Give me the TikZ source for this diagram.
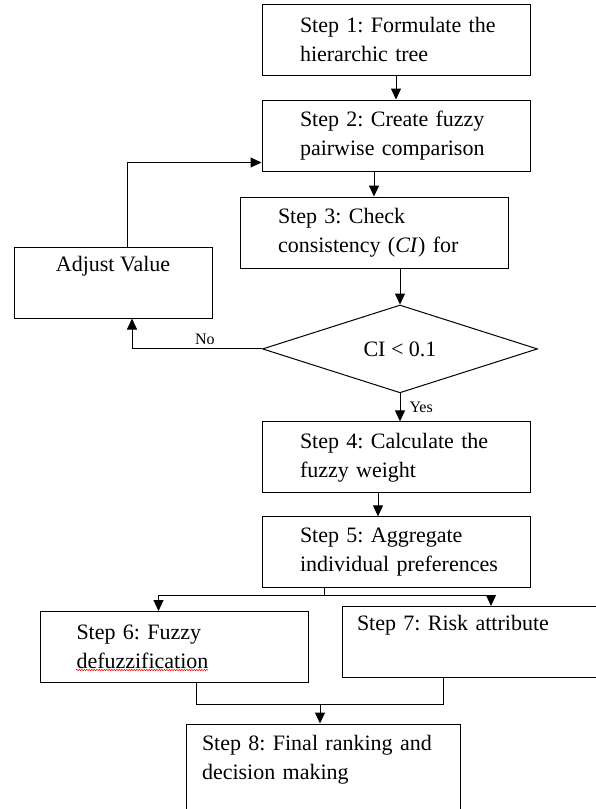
\documentclass[tikz,border=0pt]{standalone}
\usepackage{fontspec}
\setmainfont{Liberation Serif}
\usepackage{tikz}
\usetikzlibrary{shapes.geometric,arrows.meta,positioning,decorations.pathmorphing}
\frenchspacing

\begin{document}
\begin{tikzpicture}[x=1pt, y=1pt, >={Triangle[length=11pt,width=10pt]}, line width=1pt,
    stepbox/.style={draw, rectangle, minimum width=268pt, minimum height=71pt, text width=248pt, inner xsep=0pt, align=left, font=\fontsize{22}{29}\selectfont, execute at begin node={\leftskip=#1\relax}},
    stepbox/.default=28pt,
    adjbox/.style={draw, rectangle, minimum width=198pt, minimum height=71pt, align=center, font=\fontsize{22}{29}\selectfont},
    decision/.style={draw, diamond, minimum width=275pt, minimum height=87pt, inner sep=0pt, font=\fontsize{22}{29}\selectfont},
    answer/.style={font=\fontsize{16}{19}\selectfont, inner sep=1pt}]
    \useasboundingbox (0,0) rectangle (595,-809);

    \node[stepbox] (s1) at (396,-39.5) {Step 1: Formulate the\\hierarchic tree};
    \node[stepbox, below=24pt of s1] (s2) {\makebox[210pt][s]{Step 2: Create fuzzy}\\pairwise comparison};
    \node[stepbox, below=25pt of s2, xshift=-22pt] (s3) {Step 3: Check\\consistency (\textit{CI}) for};
    \node[decision, below=36pt of s3, xshift=26pt] (check) {CI < 0.1};
    \node[stepbox, below=28pt of check, xshift=-4pt] (s4) {Step 4: Calculate the\\fuzzy weight};
    \node[stepbox, below=23pt of s4] (s5) {Step 5: Aggregate\\individual preferences};
    \node[stepbox=26pt] (s6) at (174.5,-647) {Step 6: Fuzzy\\defuzzification};
    \node[stepbox=5pt] (s7) at (476,-642) {Step 7: Risk attribute\\\strut};
    \node[stepbox=3pt, minimum width=274pt, minimum height=104pt] (s8) at (323,-776) {Step 8: Final ranking and\\decision making\\\strut};
    \node[adjbox] (adjust) at (113,-282.5) {Adjust Value\\\strut};

    % spell-check squiggle under defuzzification
    \draw[red, line width=0.5pt, decorate, decoration={snake, amplitude=0.7pt, segment length=2.5pt}] ([xshift=36pt, yshift=13pt]s6.south west) -- ([xshift=168pt, yshift=13pt]s6.south west);

    \draw[->] (s1) -- (s2);
    \draw[->] (s2.south -| s3.north) -- (s3.north);
    \draw[->] (s3.south -| check.north) -- (check.north);
    \draw[->] (check.south) -- (check.south |- s4.north) node[answer, midway, right=8pt] {Yes};
    \draw[->] ([xshift=-18pt]s4.south) -- ([xshift=-18pt]s5.north);

    % loop back when CI is too large
    \draw[->] (check.west) -| ([xshift=19pt]adjust.south) node[answer, pos=0.22, above=3pt] {No};
    \draw[->] ([xshift=14pt]adjust.north) |- ([yshift=-27pt]s2.west);

    \coordinate (split) at ([xshift=-72pt, yshift=-7pt]s5.south);
    \draw ([xshift=-72pt]s5.south) -- (split);
    \draw[->] (split) -| ([xshift=-16pt]s6.north);
    \draw[->] (split) -| ([xshift=15pt]s7.north);

    \coordinate (merge) at ([xshift=-3pt, yshift=19pt]s8.north);
    \draw ([xshift=22pt]s6.south) |- (merge);
    \draw ([xshift=-33pt]s7.south) |- (merge);
    \draw[->] (merge) -- (merge |- s8.north);
\end{tikzpicture}
\end{document}
